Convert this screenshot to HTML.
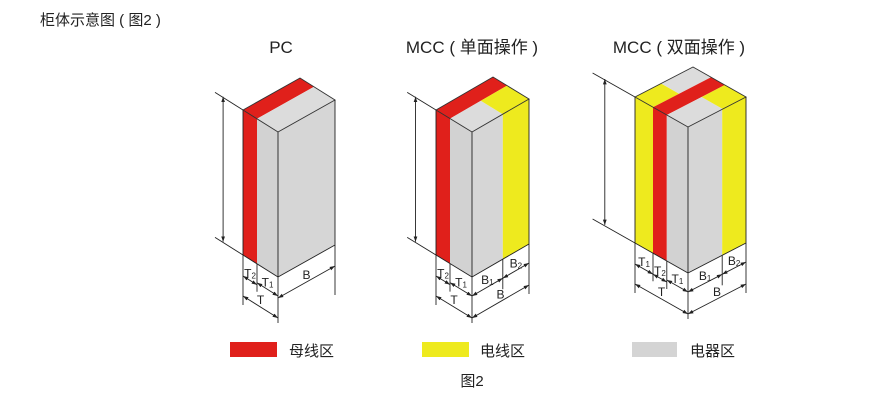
<!DOCTYPE html>
<html><head><meta charset="utf-8"><style>
html,body{margin:0;padding:0;background:#fff;}
svg{display:block;font-family:"Liberation Sans","Noto Sans CJK SC",sans-serif;}
</style></head><body>
<svg id="s" width="893" height="402" viewBox="0 0 893 402" xmlns="http://www.w3.org/2000/svg">
<defs><marker id="ah" viewBox="0 0 10 10" refX="10" refY="5" markerWidth="6" markerHeight="6" orient="auto-start-reverse"><path d="M0,1.5 L10,5 L0,8.5 z" fill="#222"/></marker></defs>
<text x="40" y="25" font-size="15" fill="#222">柜体示意图 ( 图2 )</text>
<text x="281" y="53" font-size="17" fill="#222" text-anchor="middle">PC</text>
<text x="472" y="53" font-size="17" fill="#222" text-anchor="middle">MCC ( 单面操作 )</text>
<text x="679" y="53" font-size="17" fill="#222" text-anchor="middle">MCC ( 双面操作 )</text>
<rect x="230" y="342" width="47" height="15" fill="#e0201b"/>
<text x="289" y="356" font-size="15" fill="#222">母线区</text>
<rect x="422" y="342" width="47" height="15" fill="#eeea1e"/>
<text x="480" y="356" font-size="15" fill="#222">电线区</text>
<rect x="632" y="342" width="45" height="15" fill="#d4d4d4"/>
<text x="690" y="356" font-size="15" fill="#222">电器区</text>
<text x="472" y="386" font-size="15" fill="#222" text-anchor="middle">图2</text>
<g id="g"></g>
</svg>
<script>
var R='#e0201b',Y='#eeea1e',G='#d6d6d6',GL='#d2d2d2',GT='#dcdcdc';
var out='';
function P(c,a,b,z){return [c.L[0]+a*c.u[0]+b*c.v[0], c.L[1]+a*c.u[1]+b*c.v[1]+z*c.h];}
function poly(pts,fill){out+='<polygon points="'+pts.map(p=>p[0].toFixed(1)+','+p[1].toFixed(1)).join(' ')+'" fill="'+fill+'"/>';}
function line(p,q,extra){out+='<line x1="'+p[0].toFixed(1)+'" y1="'+p[1].toFixed(1)+'" x2="'+q[0].toFixed(1)+'" y2="'+q[1].toFixed(1)+'" stroke="#222" stroke-width="0.9" '+(extra||'')+'/>';}
function arrow(p,q){line(p,q,'marker-start="url(#ah)" marker-end="url(#ah)"');}
function label(x,y,t,s){out+='<text x="'+x.toFixed(1)+'" y="'+y.toFixed(1)+'" font-size="12" fill="#222" text-anchor="middle">'+t+(s?'<tspan font-size="8" dy="1">'+s+'</tspan>':'')+'</text>';}
function cab(c){
  c.left.forEach(s=>poly([P(c,s[0],0,0),P(c,s[1],0,0),P(c,s[1],0,1),P(c,s[0],0,1)],s[2]));
  c.right.forEach(s=>poly([P(c,1,s[0],0),P(c,1,s[1],0),P(c,1,s[1],1),P(c,1,s[0],1)],s[2]));
  c.top.forEach(s=>poly([P(c,s[0],s[2],0),P(c,s[1],s[2],0),P(c,s[1],s[3],0),P(c,s[0],s[3],0)],s[4]));
  var e=[[0,0,0],[1,0,0],[1,1,0],[0,1,0]];
  out+='<polygon points="'+e.map(t=>P(c,t[0],t[1],0).join(',')).join(' ')+'" fill="none" stroke="#333" stroke-width="0.9"/>';
  line(P(c,1,0,0),P(c,1,0,1));line(P(c,0,0,0),P(c,0,0,1));line(P(c,1,1,0),P(c,1,1,1));
  line(P(c,0,0,1),P(c,1,0,1));line(P(c,1,0,1),P(c,1,1,1));
  var t0=P(c,0,0,0),b0=P(c,0,0,1),k=0.8;
  var e1=[t0[0]-c.u[0]*k,t0[1]-c.u[1]*k],e2=[b0[0]-c.u[0]*k,b0[1]-c.u[1]*k];
  line(e1,t0);line(e2,b0);
  var ax=t0[0]-c.u[0]*0.57;
  arrow([ax,e1[1]+c.u[1]*0.2],[ax,e2[1]+c.u[1]*0.2]);
  c.aTicks.forEach(a=>{var p=P(c,a,0,1);var L=(a==1?46:(a==0?50:28));line(p,[p[0],p[1]+L]);});
  c.bTicks.forEach(b=>{if(b==0)return;var p=P(c,1,b,1);line(p,[p[0],p[1]+(b==1?50:30)]);});
  c.dims.forEach(d=>{
    var p,q;
    if(d.s=='a'){p=P(c,d.f,0,1);q=P(c,d.t,0,1);}else{p=P(c,1,d.f,1);q=P(c,1,d.t,1);}
    p=[p[0],p[1]+d.d];q=[q[0],q[1]+d.d];arrow(p,q);
    label((p[0]+q[0])/2,(p[1]+q[1])/2-3,d.l,d.sub);
  });
}
cab({L:[243,110],u:[35,22],v:[57,-32],h:145,
 left:[[0,.4,R],[.4,1,GL]],right:[[0,1,G]],top:[[0,.4,0,1,R],[.4,1,0,1,GT]],
 aTicks:[0,.4,1],bTicks:[0,1],
 dims:[{s:'a',f:0,t:.4,d:21,l:'T',sub:'2'},{s:'a',f:.4,t:1,d:19,l:'T',sub:'1'},{s:'a',f:0,t:1,d:41,l:'T'},{s:'b',f:0,t:1,d:21,l:'B'}]});
cab({L:[436,110],u:[36,22],v:[57,-33],h:145,
 left:[[0,.39,R],[.39,1,GL]],right:[[0,.54,G],[.54,1,Y]],top:[[0,.39,0,1,R],[.39,1,0,.54,GT],[.39,1,.54,1,Y]],
 aTicks:[0,.39,1],bTicks:[0,.54,1],
 dims:[{s:'a',f:0,t:.39,d:21,l:'T',sub:'2'},{s:'a',f:.39,t:1,d:19,l:'T',sub:'1'},{s:'a',f:0,t:1,d:41,l:'T'},{s:'b',f:0,t:.54,d:19,l:'B',sub:'1'},{s:'b',f:.54,t:1,d:19,l:'B',sub:'2'},{s:'b',f:0,t:1,d:41,l:'B'}]});
cab({L:[635,97],u:[53,30],v:[58,-30],h:146,
 left:[[0,.34,Y],[.34,.6,R],[.6,1,GL]],right:[[0,.59,G],[.59,1,Y]],
 top:[[0,.34,0,.45,Y],[0,.34,.45,1,GT],[.34,.6,0,1,R],[.6,1,0,.6,GT],[.6,1,.6,1,Y]],
 aTicks:[0,.34,.6,1],bTicks:[0,.59,1],
 dims:[{s:'a',f:0,t:.34,d:21,l:'T',sub:'1'},{s:'a',f:.34,t:.6,d:21,l:'T',sub:'2'},{s:'a',f:.6,t:1,d:19,l:'T',sub:'1'},{s:'a',f:0,t:1,d:41,l:'T'},{s:'b',f:0,t:.59,d:19,l:'B',sub:'1'},{s:'b',f:.59,t:1,d:19,l:'B',sub:'2'},{s:'b',f:0,t:1,d:41,l:'B'}]});
document.getElementById('g').innerHTML=out;
</script>
</body></html>
